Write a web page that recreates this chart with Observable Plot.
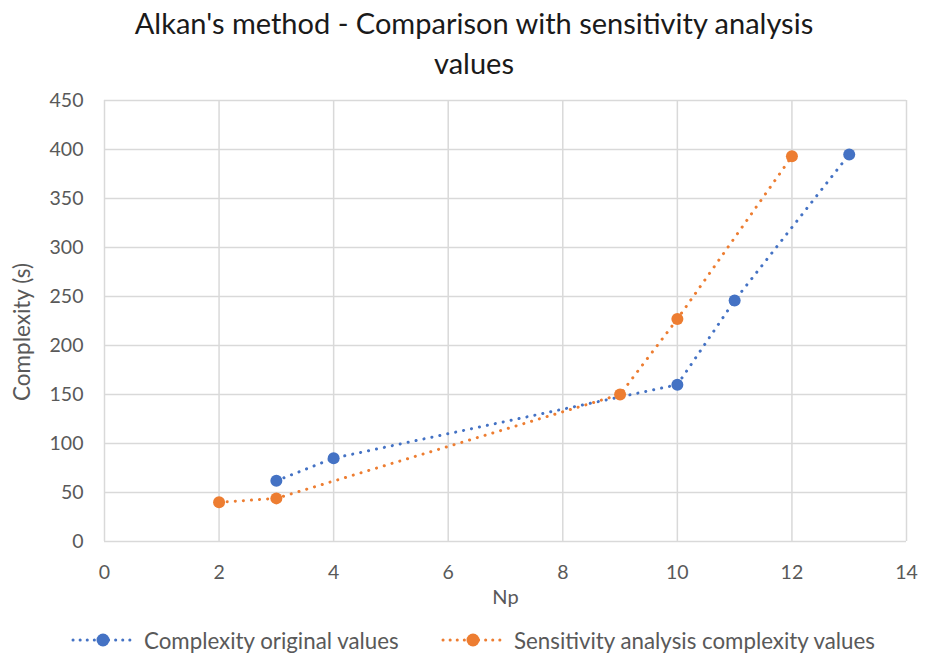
<!DOCTYPE html>
<html>
<head>
<meta charset="utf-8">
<script src="https://cdn.jsdelivr.net/npm/d3@7"></script>
<script src="https://cdn.jsdelivr.net/npm/@observablehq/plot@0.6"></script>
<style>
  body { margin: 0; background: #fff; font-family: Lato, "Open Sans", sans-serif; }
  #wrap { width: 934px; height: 655px; position: relative; }
  #title { position: absolute; top: 3px; left: 0; width: 948px; text-align: center; font-size: 29px; line-height: 40px; color: #1a1a1a; }
  #chart { position: absolute; top: 88px; left: 0; }
  #legend { position: absolute; top: 625px; left: 0; width: 934px; height: 30px; font-size: 22.3px; color: #595959; }
  .item { position: absolute; top: 0; display: flex; align-items: center; }
  .item svg { margin-right: 8px; }
</style>
</head>
<body>
<div id="wrap">
  <div id="title">Alkan's method - Comparison with sensitivity analysis<br>values</div>
  <div id="chart"></div>
  <div id="legend"></div>
</div>
<script>
const seriesNames = ["Complexity original values", "Sensitivity analysis complexity values"];
const colors = ["#4472C4", "#ED7D31"];
const originalNp = [3, 4, 10, 11, 13];
const originalValues = [62, 85, 160, 246, 395];
const sensitivityNp = [2, 3, 9, 10, 12];
const sensitivityValues = [40, 44, 150, 227, 393];
const xTicks = [0, 2, 4, 6, 8, 10, 12, 14];
const yTicks = [0, 50, 100, 150, 200, 250, 300, 350, 400, 450];

const data = [
  ...originalNp.map((x, i) => ({series: seriesNames[0], x, y: originalValues[i]})),
  ...sensitivityNp.map((x, i) => ({series: seriesNames[1], x, y: sensitivityValues[i]}))
];

const chart = Plot.plot({
  width: 934,
  height: 530,
  marginLeft: 104,
  marginRight: 28,
  marginTop: 12,
  marginBottom: 77,
  style: {fontFamily: "Lato, 'Open Sans', sans-serif", fontSize: "19.5px", color: "#595959", background: "#fff"},
  x: {domain: [0, 14], ticks: xTicks, label: null},
  y: {domain: [0, 450], ticks: yTicks, label: null},
  color: {domain: seriesNames, range: colors},
  marks: [
    Plot.gridX(xTicks, {stroke: "#d9d9d9", strokeOpacity: 1, strokeWidth: 1.5}),
    Plot.gridY(yTicks, {stroke: "#d9d9d9", strokeOpacity: 1, strokeWidth: 1.5}),
    Plot.axisX({ticks: xTicks, tickSize: 0, tickPadding: 24, fontSize: 19.5, label: null}),
    Plot.axisY({ticks: yTicks, tickSize: 0, tickPadding: 21, fontSize: 19.5, label: null}),
    Plot.text(["Np"], {frameAnchor: "bottom", dy: 62, fontSize: 20, fill: "#595959"}),
    Plot.text(["Complexity (s)"], {frameAnchor: "left", textAnchor: "middle", dx: -82, dy: 11, rotate: -90, fontSize: 22.5, fill: "#595959"}),
    Plot.line(data, {x: "x", y: "y", z: "series", stroke: "series", strokeWidth: 3, strokeDasharray: "0.1 8", strokeLinecap: "round"}),
    Plot.dot(data, {x: "x", y: "y", fill: "series", r: 6, stroke: "none"})
  ]
});
document.getElementById("chart").appendChild(chart);

const legend = document.getElementById("legend");
const lefts = [70, 440];
seriesNames.forEach((name, i) => {
  const item = document.createElement("div");
  item.className = "item";
  item.style.left = lefts[i] + "px";
  item.innerHTML = `<svg width="66" height="30"><line x1="3" y1="15" x2="63" y2="15" stroke="${colors[i]}" stroke-width="3" stroke-dasharray="0.1 7" stroke-linecap="round"/><circle cx="33" cy="15" r="6.5" fill="${colors[i]}"/></svg><span>${name}</span>`;
  legend.appendChild(item);
});
</script>
</body>
</html>
